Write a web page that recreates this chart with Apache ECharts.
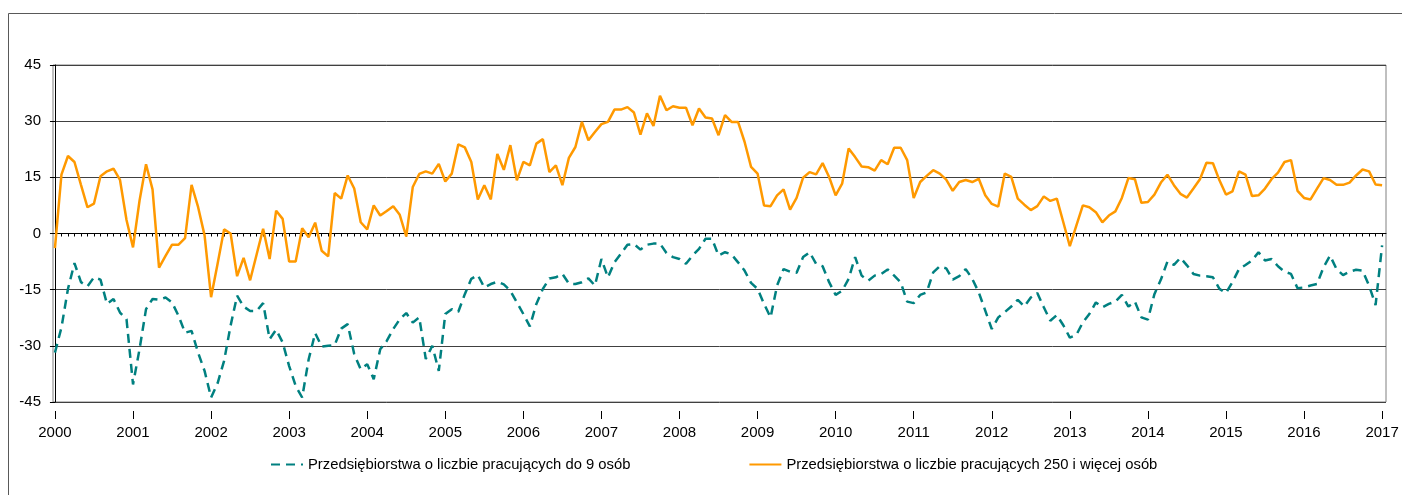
<!DOCTYPE html>
<html>
<head>
<meta charset="utf-8">
<script src="https://cdn.jsdelivr.net/npm/echarts@6/dist/echarts.min.js"></script>
<style>
html,body{margin:0;padding:0;background:#fff;}
#chart{width:1402px;height:495px;}
</style>
</head>
<body>
<div id="chart"></div>
<script>
// Year tick labels (one every 12 months, Jan 2000 .. Jan 2017)
var years = ['2000','2001','2002','2003','2004','2005','2006','2007','2008','2009','2010','2011','2012','2013','2014','2015','2016','2017'];

// Series names
var nameSmall = 'Przedsiębiorstwa o liczbie pracujących do 9 osób';
var nameLarge = 'Przedsiębiorstwa o liczbie pracujących 250 i więcej osób';

// Monthly values, Jan 2000 .. Jan 2017 (205 months)
var small9 = [
-31.8,-25.1,-14.8,-7.9,-13.0,-14.1,-11.7,-12.3,-18.8,-17.5,-21.1,-22.9,
-40.3,-30.9,-20.2,-17.5,-17.7,-17.1,-18.4,-22.0,-26.5,-26.0,-31.8,-36.7,
-43.8,-40.0,-34.0,-24.6,-16.6,-19.5,-20.7,-20.7,-18.6,-28.2,-25.7,-29.1,
-35.4,-40.7,-43.8,-33.6,-26.6,-30.2,-30.0,-29.8,-25.4,-24.2,-32.2,-36.25,
-34.9,-38.9,-30.9,-28.7,-25.5,-22.9,-21.25,-23.8,-22.4,-33.5,-30.0,-36.7,
-21.5,-20.2,-20.9,-16.2,-12.1,-11.1,-14.4,-13.5,-12.9,-13.6,-15.3,-18.4,
-21.5,-24.8,-18.8,-14.8,-12.0,-11.7,-10.8,-13.4,-13.5,-13.0,-12.0,-13.9,
-6.8,-11.7,-7.7,-5.4,-3.0,-2.8,-4.3,-3.0,-2.7,-2.7,-5.2,-6.3,
-6.8,-8.1,-5.9,-4.1,-1.4,-1.4,-5.9,-5.0,-5.6,-7.7,-9.9,-13.2,
-14.8,-18.8,-22.4,-13.9,-9.5,-10.2,-10.5,-6.3,-5.0,-8.1,-8.75,-13.0,
-16.4,-15.3,-12.1,-6.3,-11.25,-12.6,-11.25,-10.8,-9.6,-11.25,-13.0,-18.2,
-18.6,-16.4,-15.7,-10.4,-8.75,-9.3,-12.3,-11.4,-9.5,-12.1,-15.7,-20.6,
-25.5,-22.4,-21.0,-19.5,-17.7,-19.5,-17.1,-15.9,-19.7,-23.3,-21.8,-24.5,
-27.8,-27.1,-23.75,-21.5,-18.4,-19.7,-18.8,-18.2,-16.4,-19.5,-18.2,-22.4,
-23.0,-16.2,-12.3,-7.5,-8.4,-6.5,-8.5,-10.8,-11.25,-11.4,-11.7,-14.8,
-15.9,-13.0,-9.5,-8.4,-7.2,-5.0,-7.2,-6.8,-8.75,-10.2,-10.8,-14.6,
-14.4,-13.9,-13.5,-9.0,-5.9,-9.5,-11.1,-10.2,-9.7,-9.9,-13.9,-19.1,
-3.2
];

var large250 = [
-3.9,15.7,20.7,19.1,13.0,7.0,8.0,15.3,16.6,17.3,14.3,3.6,
-3.7,8.75,18.5,11.8,-9.1,-6.0,-3.0,-3.0,-1.25,13.0,7.1,-0.5,
-17.0,-8.1,1.1,0.0,-11.4,-6.5,-12.5,-5.6,1.25,-6.8,6.1,3.9,
-7.5,-7.5,1.4,-1.0,2.9,-4.6,-6.1,10.8,9.3,15.5,12.0,3.0,
1.1,7.5,4.8,6.0,7.3,5.0,-0.8,12.4,15.9,16.6,16.0,18.6,
13.9,16.0,23.8,23.0,19.1,9.1,12.9,9.1,21.25,17.0,23.6,14.2,
19.1,18.2,24.0,25.2,16.4,18.2,12.9,20.2,23.1,29.8,24.9,27.1,
29.2,29.8,33.1,33.1,33.75,32.3,26.4,32.1,28.7,36.8,32.9,34.0,
33.6,33.6,28.9,33.4,31.0,30.7,26.25,31.6,29.8,29.8,24.5,17.8,
16.0,7.5,7.3,10.2,11.8,6.4,9.5,14.9,16.4,15.8,18.8,15.1,
10.2,13.3,22.7,20.4,17.9,17.7,16.8,19.6,18.5,22.9,22.9,19.6,
9.5,13.75,15.4,16.9,16.0,14.4,11.4,13.75,14.3,13.75,14.6,10.2,
7.9,7.2,16.0,15.1,9.3,7.7,6.25,7.3,9.9,8.7,9.3,3.0,
-3.4,2.1,7.5,7.0,5.7,3.0,4.8,5.9,9.5,14.8,14.5,8.2,
8.4,10.4,13.6,15.7,12.9,10.6,9.6,12.0,14.5,18.9,18.75,14.2,
10.4,11.25,16.6,15.7,10.0,10.2,12.0,14.5,16.25,19.1,19.6,11.4,
9.5,9.1,12.0,14.8,14.3,13.0,13.0,13.6,15.5,17.1,16.6,13.1,
12.9
];

// Axis ranges / tick values
var yMin = -45, yMax = 45, yStep = 15;
var monthTicks = [];
for (var i = 0; i < small9.length; i++) monthTicks.push(i);
var yearTicks = [];
for (var k = 0; k < years.length; k++) yearTicks.push(k * 12);

function toPairs(arr) { return arr.map(function (v, i) { return [i, v]; }); }

var FONT = "'Liberation Sans', Arial, sans-serif";
var chart = echarts.init(document.getElementById('chart'), null, {renderer: 'canvas'});

var option = {
  animation: false,
  backgroundColor: '#ffffff',
  textStyle: {fontFamily: FONT},
  graphic: [{
    type: 'rect',
    shape: {x: 8.5, y: 13.5, width: 1400, height: 490},
    style: {fill: 'none', stroke: '#595959', lineWidth: 1},
    silent: true,
    z: -1
  }],
  grid: {
    left: 53, right: 16, top: 65, bottom: 93,
    show: true, borderColor: '#808080', borderWidth: 1, backgroundColor: 'transparent'
  },
  legend: {
    left: 265, top: 452,
    itemWidth: 32, itemHeight: 14, itemGap: 118,
    itemStyle: {opacity: 0, borderWidth: 0},
    textStyle: {fontFamily: FONT, fontSize: 14.8, color: '#000'},
    data: [nameSmall, nameLarge]
  },
  xAxis: [{
    type: 'value', min: -0.3, max: 204.6,
    axisLine: {show: true, lineStyle: {color: '#000', width: 1}},
    axisTick: {show: true, customValues: monthTicks, length: 3, lineStyle: {color: '#000'}},
    axisLabel: {show: false},
    splitLine: {show: false}
  }, {
    type: 'value', min: -0.3, max: 204.6, position: 'bottom', offset: 9,
    axisLine: {show: false},
    axisTick: {show: true, customValues: yearTicks, length: 8, lineStyle: {color: '#000'}},
    axisLabel: {
      show: true, customValues: yearTicks, margin: 14,
      fontFamily: FONT, fontSize: 15, color: '#000',
      formatter: function (v) { return years[Math.round(v / 12)] || ''; }
    },
    splitLine: {show: false}
  }],
  yAxis: {
    type: 'value', min: yMin, max: yMax, interval: yStep,
    axisLine: {show: true, lineStyle: {color: '#000', width: 1}},
    axisTick: {show: true, length: 5, lineStyle: {color: '#000'}},
    axisLabel: {fontFamily: FONT, fontSize: 15, color: '#000', margin: 12},
    splitLine: {show: true, lineStyle: {color: '#404040', width: 1}}
  },
  series: [{
    name: nameSmall, type: 'line', xAxisIndex: 0,
    data: toPairs(small9),
    symbol: 'none', showSymbol: false,
    lineStyle: {color: '#008080', width: 2.5, type: [9, 6]},
    itemStyle: {color: '#008080'},
    z: 3
  }, {
    name: nameLarge, type: 'line', xAxisIndex: 0,
    data: toPairs(large250),
    symbol: 'none', showSymbol: false,
    lineStyle: {color: '#FF9900', width: 2.5},
    itemStyle: {color: '#FF9900'},
    z: 4
  }]
};
chart.setOption(option);
</script>
</body>
</html>
